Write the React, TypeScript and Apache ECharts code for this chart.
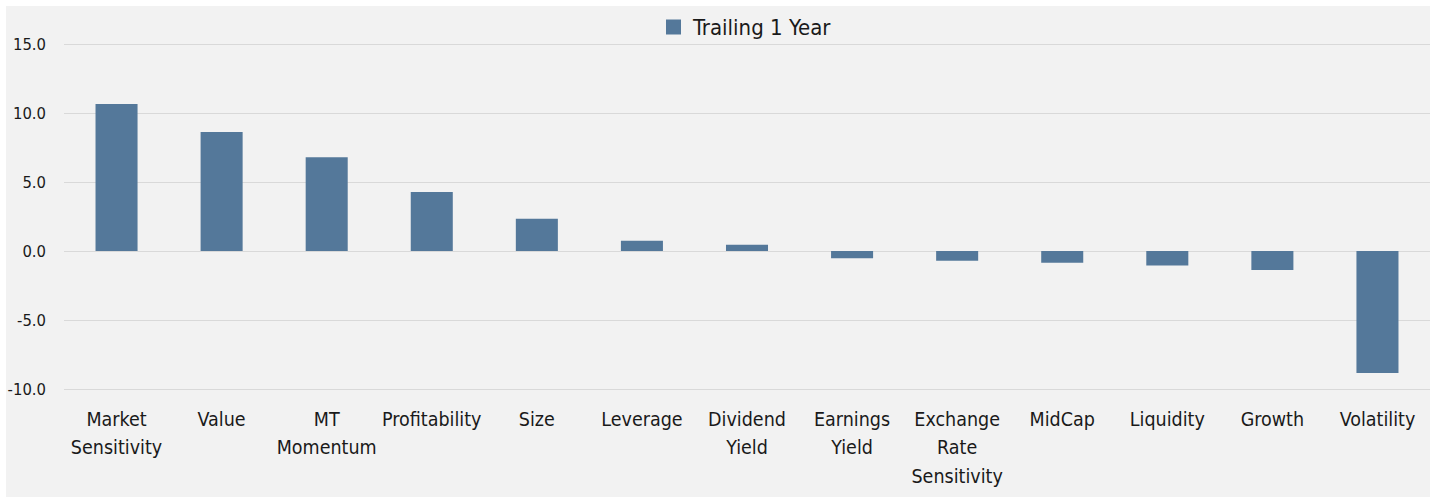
import React, { useEffect, useRef } from "react";
import * as echarts from "echarts";

const categories: string[] = [
  "Market\nSensitivity",
  "Value",
  "MT\nMomentum",
  "Profitability",
  "Size",
  "Leverage",
  "Dividend\nYield",
  "Earnings\nYield",
  "Exchange\nRate\nSensitivity",
  "MidCap",
  "Liquidity",
  "Growth",
  "Volatility",
];

const trailing1Year: number[] = [
  10.65, 8.62, 6.79, 4.27, 2.34, 0.75, 0.46, -0.53, -0.7, -0.85, -1.05, -1.38, -8.84,
];

const seriesName = "Trailing 1 Year";
const yMin = -10;
const yMax = 15;
const yStep = 5;

const FONT = "'DejaVu Sans Condensed', 'Liberation Sans Narrow', sans-serif";

export default function App() {
  const ref = useRef<HTMLDivElement>(null);

  useEffect(() => {
    if (!ref.current) return;
    const chart = echarts.init(ref.current, undefined, { renderer: "svg" });
    chart.setOption({
      animation: false,
      backgroundColor: "transparent",
      textStyle: { fontFamily: FONT, color: "#1a1a1a" },
      legend: {
        show: true,
        left: 660,
        top: 9,
        padding: 0,
        itemWidth: 15,
        itemHeight: 15,
        itemGap: 10,
        icon: "rect",
        textStyle: {
          fontFamily: FONT,
          fontSize: 22,
          color: "#1a1a1a",
          padding: [0, 0, 0, 7],
          lineHeight: 24,
        },
        data: [seriesName],
      },
      grid: {
        left: 58,
        right: 0,
        top: 38,
        bottom: 108,
        containLabel: false,
        outerBoundsMode: "none",
      },
      xAxis: {
        type: "category",
        data: categories,
        position: "bottom",
        axisLine: { show: false, onZero: false },
        axisTick: { show: false },
        axisLabel: {
          interval: 0,
          margin: 16,
          fontFamily: FONT,
          fontSize: 19.5,
          lineHeight: 28.5,
          color: "#1a1a1a",
          hideOverlap: false,
        },
      },
      yAxis: {
        type: "value",
        min: yMin,
        max: yMax,
        interval: yStep,
        axisLine: { show: false },
        axisTick: { show: false },
        splitLine: { lineStyle: { color: "#d9d9d9", width: 1 } },
        axisLabel: {
          margin: 18,
          fontFamily: FONT,
          fontSize: 16.5,
          color: "#1a1a1a",
          formatter: (v: number) => v.toFixed(1),
        },
      },
      series: [
        {
          name: seriesName,
          type: "bar",
          data: trailing1Year,
          barWidth: "40%",
          itemStyle: { color: "#54789a" },
        },
      ],
    });
    return () => chart.dispose();
  }, []);

  return (
    <div
      style={{
        position: "absolute",
        left: 0,
        top: 0,
        width: 1431,
        height: 498,
        background: "#ffffff",
      }}
    >
      <div
        style={{
          position: "absolute",
          left: 6,
          top: 6,
          width: 1424,
          height: 491,
          background: "#f2f2f2",
        }}
      >
        <div ref={ref} style={{ width: 1424, height: 491 }} />
      </div>
    </div>
  );
}
